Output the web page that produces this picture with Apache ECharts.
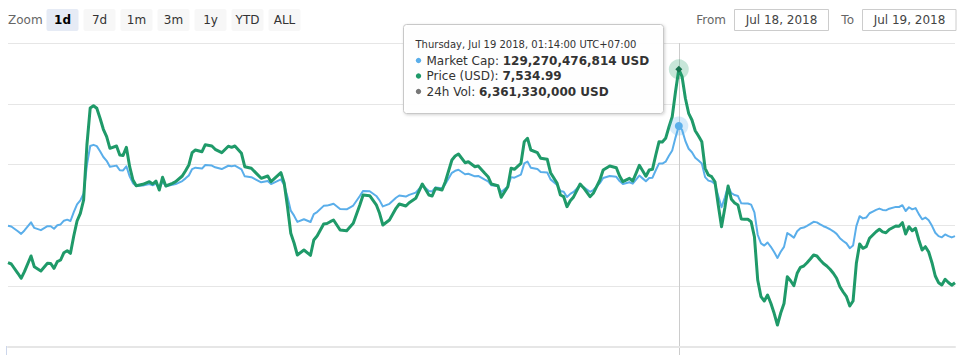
<!DOCTYPE html>
<html>
<head>
<meta charset="utf-8">
<script src="https://cdn.jsdelivr.net/npm/echarts@6/dist/echarts.min.js"></script>
<style>
html,body{margin:0;padding:0;background:#ffffff;}
#chart{width:964px;height:355px;}
</style>
</head>
<body>
<div id="chart"></div>
<script>
// ---------- DATA (5-minute samples, UTC+07:00) ----------
const times = [
 '07-18 08:14','07-18 08:19','07-18 08:29','07-18 08:34','07-18 08:39','07-18 08:49','07-18 08:54',
 '07-18 09:04','07-18 09:14','07-18 09:19','07-18 09:24','07-18 09:29','07-18 09:34','07-18 09:39','07-18 09:44','07-18 09:49','07-18 09:54','07-18 09:59',
 '07-18 10:04','07-18 10:09','07-18 10:14','07-18 10:19','07-18 10:24','07-18 10:29','07-18 10:34','07-18 10:39','07-18 10:44','07-18 10:49','07-18 10:59',
 '07-18 11:04','07-18 11:09','07-18 11:14','07-18 11:19','07-18 11:24','07-18 11:29','07-18 11:39','07-18 11:49','07-18 11:54','07-18 11:59',
 '07-18 12:04','07-18 12:09','07-18 12:14','07-18 12:24','07-18 12:29','07-18 12:39','07-18 12:44','07-18 12:49','07-18 12:54','07-18 12:59',
 '07-18 13:09','07-18 13:14','07-18 13:24','07-18 13:29','07-18 13:39','07-18 13:49','07-18 13:54','07-18 13:59',
 '07-18 14:09','07-18 14:14','07-18 14:24','07-18 14:39','07-18 14:49','07-18 14:54',
 '07-18 15:09','07-18 15:14','07-18 15:19','07-18 15:24','07-18 15:29','07-18 15:34','07-18 15:44','07-18 15:54','07-18 15:59',
 '07-18 16:04','07-18 16:14','07-18 16:19','07-18 16:24','07-18 16:29','07-18 16:39','07-18 16:49','07-18 16:59',
 '07-18 17:09','07-18 17:14','07-18 17:24','07-18 17:34','07-18 17:39','07-18 17:44','07-18 17:54',
 '07-18 18:04','07-18 18:09','07-18 18:19','07-18 18:24','07-18 18:34','07-18 18:44','07-18 18:54','07-18 18:59',
 '07-18 19:04','07-18 19:14','07-18 19:19','07-18 19:29','07-18 19:34','07-18 19:39','07-18 19:49','07-18 19:54',
 '07-18 20:04','07-18 20:09','07-18 20:19','07-18 20:24','07-18 20:29','07-18 20:39','07-18 20:44','07-18 20:54','07-18 20:59',
 '07-18 21:04','07-18 21:14','07-18 21:19','07-18 21:24','07-18 21:29','07-18 21:39','07-18 21:44','07-18 21:54','07-18 21:59',
 '07-18 22:09','07-18 22:14','07-18 22:19','07-18 22:24','07-18 22:29','07-18 22:34','07-18 22:44','07-18 22:49','07-18 22:59',
 '07-18 23:04','07-18 23:14','07-18 23:19','07-18 23:29','07-18 23:39','07-18 23:44','07-18 23:49','07-18 23:59',
 '07-19 00:04','07-19 00:09','07-19 00:14','07-19 00:19','07-19 00:24','07-19 00:29','07-19 00:34','07-19 00:39','07-19 00:44','07-19 00:49','07-19 00:54','07-19 00:59',
 '07-19 01:04','07-19 01:09','07-19 01:14','07-19 01:19','07-19 01:24','07-19 01:29','07-19 01:34','07-19 01:39','07-19 01:44','07-19 01:49','07-19 01:54','07-19 01:59',
 '07-19 02:04','07-19 02:09','07-19 02:14','07-19 02:19','07-19 02:24','07-19 02:29','07-19 02:34','07-19 02:39','07-19 02:44','07-19 02:49','07-19 02:54','07-19 02:59',
 '07-19 03:04','07-19 03:09','07-19 03:14','07-19 03:19','07-19 03:24','07-19 03:29','07-19 03:34','07-19 03:39','07-19 03:44','07-19 03:49','07-19 03:54','07-19 03:59',
 '07-19 04:04','07-19 04:09','07-19 04:14','07-19 04:19','07-19 04:24','07-19 04:29','07-19 04:34','07-19 04:39','07-19 04:44','07-19 04:49','07-19 04:54','07-19 04:59',
 '07-19 05:04','07-19 05:09','07-19 05:14','07-19 05:19','07-19 05:24','07-19 05:29','07-19 05:34','07-19 05:39','07-19 05:44','07-19 05:49','07-19 05:54','07-19 05:59',
 '07-19 06:04','07-19 06:09','07-19 06:14','07-19 06:19','07-19 06:24','07-19 06:29','07-19 06:34','07-19 06:44','07-19 06:49','07-19 06:54','07-19 06:59',
 '07-19 07:04','07-19 07:09','07-19 07:14','07-19 07:19','07-19 07:24','07-19 07:29','07-19 07:34','07-19 07:39','07-19 07:44','07-19 07:49','07-19 07:54','07-19 07:59',
 '07-19 08:04','07-19 08:09','07-19 08:14'
];

const priceUsd = [
 7341.60,7340.30,7331.00,7326.00,7332.60,7348.30,7337.60,
 7333.30,7341.00,7340.80,7336.00,7342.60,7344.30,7351.60,7353.60,7351.00,7368.30,7383.30,
 7391.00,7404.30,7459.30,7496.30,7498.60,7496.00,7486.00,7475.00,7467.60,7456.00,7458.30,
 7449.30,7448.90,7457.00,7437.60,7424.30,7418.60,7420.00,7422.60,7420.30,7423.30,
 7414.30,7427.00,7418.30,7421.00,7422.60,7428.30,7433.60,7439.30,7451.60,7454.30,
 7452.60,7459.60,7458.30,7455.00,7451.60,7458.10,7457.00,7458.30,
 7451.00,7437.60,7436.00,7426.00,7428.30,7422.60,
 7431.60,7421.00,7397.60,7371.00,7361.30,7349.30,7354.30,7349.00,7364.30,
 7368.30,7380.30,7380.80,7382.60,7384.30,7374.30,7373.60,7381.00,
 7399.30,7409.30,7408.60,7399.50,7391.00,7379.30,7384.30,
 7396.00,7400.30,7398.30,7401.60,7406.00,7420.30,7409.30,7408.30,
 7416.00,7414.30,7422.60,7444.30,7448.30,7450.30,7441.60,7442.60,
 7437.60,7438.30,7431.00,7427.60,7420.30,7418.60,7407.00,7417.60,7436.00,
 7435.00,7441.00,7462.60,7466.00,7454.30,7451.60,7446.00,7445.00,7431.60,
 7421.00,7409.30,7407.60,7397.60,7403.60,7407.40,7420.30,7416.60,7407.60,
 7411.00,7424.30,7434.30,7438.30,7436.60,7428.30,7422.60,7426.00,
 7423.30,7431.00,7439.00,7433.60,7428.00,7434.30,7435.00,7449.30,7462.60,7462.30,7466.00,7477.30,
 7487.60,7512.60,7534.99,7527.60,7506.00,7491.00,7484.30,7473.60,7468.30,7462.60,7436.00,7429.30,
 7427.60,7422.60,7399.30,7377.60,7396.30,7418.30,7405.00,7401.30,7399.30,7385.30,7385.10,7385.00,
 7382.60,7367.60,7324.30,7307.60,7303.30,7309.30,7301.00,7291.00,7279.30,7291.30,7300.80,7327.60,
 7323.60,7318.60,7331.00,7337.00,7338.30,7341.60,7345.30,7349.30,7348.30,7344.30,7340.80,7338.30,
 7335.00,7331.00,7326.00,7317.60,7312.30,7307.60,7298.30,7303.30,7341.00,7360.30,7356.00,7357.60,
 7366.00,7369.30,7372.60,7375.00,7372.40,7371.60,7374.80,7378.30,7378.10,7381.60,7370.30,
 7377.60,7373.60,7376.00,7364.30,7354.30,7357.60,7352.30,7341.60,7328.30,7321.60,7319.30,7325.00,
 7321.80,7319.10,7321.60
];

// market cap in billions of USD
const marketCapBn = [
 125.953,125.930,125.771,125.685,125.798,126.068,125.884,
 125.810,125.942,125.939,125.856,125.970,125.999,126.124,126.158,126.114,126.411,126.668,
 126.800,127.028,127.972,128.607,128.646,128.602,128.430,128.241,128.114,127.915,127.955,
 127.800,127.793,127.932,127.599,127.371,127.273,127.297,127.342,127.302,127.354,
 127.200,127.418,127.268,127.315,127.342,127.440,127.531,127.629,127.840,127.886,
 127.857,127.977,127.955,127.898,127.840,127.951,127.932,127.955,
 127.830,127.599,127.572,127.401,127.440,127.342,
 127.497,127.315,126.913,126.457,126.291,126.085,126.171,126.080,126.342,
 126.411,126.617,126.625,126.656,126.685,126.514,126.502,126.628,
 126.943,127.114,127.102,126.946,126.800,126.599,126.685,
 126.886,126.960,126.925,126.982,127.057,127.302,127.114,127.097,
 127.229,127.200,127.342,127.714,127.783,127.817,127.668,127.685,
 127.599,127.611,127.486,127.428,127.302,127.273,127.075,127.256,127.572,
 127.555,127.658,128.028,128.087,127.886,127.840,127.744,127.727,127.497,
 127.315,127.114,127.085,126.913,127.016,127.082,127.302,127.239,127.085,
 127.143,127.371,127.543,127.611,127.582,127.440,127.342,127.401,
 127.354,127.486,127.624,127.531,127.435,127.543,127.555,127.800,128.028,128.023,128.087,128.281,
 128.457,128.886,129.270476814,129.144,128.773,128.516,128.401,128.217,128.126,128.028,127.572,127.457,
 127.428,127.342,126.943,126.570,126.891,127.268,127.040,126.977,126.943,126.702,126.699,126.697,
 126.656,126.399,125.656,125.369,125.296,125.399,125.256,125.085,124.884,125.090,125.253,125.713,
 125.644,125.558,125.771,125.874,125.896,125.953,126.016,126.085,126.068,125.999,125.939,125.896,
 125.839,125.771,125.685,125.541,125.450,125.369,125.210,125.296,125.942,126.274,126.200,126.227,
 126.371,126.428,126.484,126.526,126.481,126.467,126.522,126.582,126.579,126.639,126.445,
 126.570,126.502,126.543,126.342,126.171,126.227,126.136,125.953,125.724,125.609,125.570,125.668,
 125.613,125.567,125.609
];

const volume24hUsd = 6361330000;
const hoverTime = '07-19 01:14';
const rangeButtons = ['1d','7d','1m','3m','1y','YTD','ALL'];
const selectedRange = '1d';
const seriesNames = ['Market Cap', 'Price (USD)', '24h Vol'];

// hidden axis bounds
const PRICE_MIN = 7257.3, PRICE_MAX = 7561.3;
const CAP_MIN = 121.924, CAP_MAX = 132.032;

// ---------- STYLE ----------
const C_CAP = '#5aaeea', C_PRICE = '#1f9a69', C_VOL = '#777777';
const FONT = 'DejaVu Sans';
const MONTHS = ['Jan','Feb','Mar','Apr','May','Jun','Jul','Aug','Sep','Oct','Nov','Dec'];
const DAYS = ['Sunday','Monday','Tuesday','Wednesday','Thursday','Friday','Saturday'];

function ts(s) {
  const m = s.match(/(\d+)-(\d+) (\d+):(\d+)/);
  return new Date(2018, +m[1] - 1, +m[2], +m[3], +m[4]).getTime();
}
function pad(n) { return (n < 10 ? '0' : '') + n; }
function groupDigits(str) { return str.replace(/\B(?=(\d{3})+(?!\d))/g, ','); }
function fmtInt(n) { return groupDigits(String(Math.round(n))); }
function fmt2(n) { const p = n.toFixed(2).split('.'); return groupDigits(p[0]) + '.' + p[1]; }
function fmtDay(t) { const d = new Date(t); return MONTHS[d.getMonth()] + ' ' + d.getDate() + ', ' + d.getFullYear(); }

const xs = times.map(ts);
const hi = times.indexOf(hoverTime);
const capData = xs.map((x, i) => [x, marketCapBn[i]]);
const priceData = xs.map((x, i) => [x, priceUsd[i]]);

const chart = echarts.init(document.getElementById('chart'), null, { renderer: 'svg', width: 964, height: 355 });

const option = {
  animation: false,
  backgroundColor: '#ffffff',
  grid: { left: 8, right: 9, top: 43, bottom: 8, containLabel: false },
  xAxis: {
    type: 'time', min: xs[0], max: xs[xs.length - 1],
    axisLine: { show: true, onZero: false, lineStyle: { color: '#e6e6e6', width: 2 } },
    axisTick: { show: false }, axisLabel: { show: false }, splitLine: { show: false }
  },
  yAxis: [
    { type: 'value', min: 0, max: 5, interval: 1, position: 'left',
      axisLine: { show: false }, axisTick: { show: false }, axisLabel: { show: false },
      splitLine: { show: true, lineStyle: { color: '#e6e6e6', width: 1 } } },
    { type: 'value', min: CAP_MIN, max: CAP_MAX, show: false, position: 'left', splitLine: { show: false } },
    { type: 'value', min: PRICE_MIN, max: PRICE_MAX, show: false, position: 'right', splitLine: { show: false } }
  ],
  series: [
    {
      name: seriesNames[0], type: 'line', yAxisIndex: 1, z: 2,
      data: capData, showSymbol: false, symbol: 'none', smooth: false,
      lineStyle: { color: C_CAP, width: 2, join: 'round' },
      itemStyle: { color: C_CAP },
      emphasis: { disabled: true },
      markPoint: {
        silent: true, animation: false, label: { show: false },
        data: [
          { coord: [xs[hi], marketCapBn[hi]], symbol: 'circle', symbolSize: 19, itemStyle: { color: 'rgba(90,174,234,0.25)' } },
          { coord: [xs[hi], marketCapBn[hi]], symbol: 'circle', symbolSize: 8, itemStyle: { color: C_CAP } }
        ]
      }
    },
    {
      name: seriesNames[1], type: 'line', yAxisIndex: 2, z: 3,
      data: priceData, showSymbol: false, symbol: 'none', smooth: false,
      lineStyle: { color: C_PRICE, width: 3, join: 'round' },
      itemStyle: { color: C_PRICE },
      emphasis: { disabled: true },
      markPoint: {
        silent: true, animation: false, label: { show: false },
        data: [
          { coord: [xs[hi], priceUsd[hi]], symbol: 'circle', symbolSize: 20, itemStyle: { color: 'rgba(31,154,105,0.25)' } },
          { coord: [xs[hi], priceUsd[hi]], symbol: 'diamond', symbolSize: 7, itemStyle: { color: '#17734f' } }
        ]
      }
    }
  ]
};
chart.setOption(option);

// ---------- decorations (range selector, date inputs, crosshair, tooltip) ----------
const g = [];
g.push({ type: 'text', x: 8, y: 20, z: 10,
  style: { text: 'Zoom', fill: '#666666', fontSize: 12, fontFamily: FONT, verticalAlign: 'middle', align: 'left' } });
rangeButtons.forEach((lab, i) => {
  const bx = 46.5 + 37 * i;
  const sel = lab === selectedRange;
  g.push({ type: 'rect', z: 10, shape: { x: bx, y: 9, width: 32, height: 22, r: 2 },
    style: { fill: sel ? '#e6ebf5' : '#f7f7f7' } });
  g.push({ type: 'text', z: 11, x: bx + 16, y: 20,
    style: { text: lab, fill: sel ? '#000000' : '#333333', fontSize: 12, fontWeight: sel ? 'bold' : 'normal',
      fontFamily: FONT, align: 'center', verticalAlign: 'middle' } });
});
g.push({ type: 'text', z: 10, x: 726, y: 20,
  style: { text: 'From', fill: '#666666', fontSize: 12, fontFamily: FONT, align: 'right', verticalAlign: 'middle' } });
g.push({ type: 'rect', z: 10, shape: { x: 734.5, y: 9.5, width: 94, height: 21 },
  style: { fill: '#ffffff', stroke: '#cccccc', lineWidth: 1 } });
g.push({ type: 'text', z: 11, x: 781.5, y: 20,
  style: { text: fmtDay(xs[0]), fill: '#444444', fontSize: 12, fontFamily: FONT, align: 'center', verticalAlign: 'middle' } });
g.push({ type: 'text', z: 10, x: 854, y: 20,
  style: { text: 'To', fill: '#666666', fontSize: 12, fontFamily: FONT, align: 'right', verticalAlign: 'middle' } });
g.push({ type: 'rect', z: 10, shape: { x: 862.5, y: 9.5, width: 93.5, height: 21 },
  style: { fill: '#ffffff', stroke: '#cccccc', lineWidth: 1 } });
g.push({ type: 'text', z: 11, x: 909.5, y: 20,
  style: { text: fmtDay(xs[xs.length - 1]), fill: '#444444', fontSize: 12, fontFamily: FONT, align: 'center', verticalAlign: 'middle' } });

// navigator edge mark at the bottom-left
g.push({ type: 'line', z: 1, shape: { x1: 6.5, y1: 346, x2: 6.5, y2: 355 }, style: { stroke: '#ccd6eb', lineWidth: 1 } });

// crosshair at the hovered point (x from the time axis)
const cx = Math.round(chart.convertToPixel({ xAxisIndex: 0 }, xs[hi])) + 0.5;
const cTop = chart.convertToPixel({ yAxisIndex: 0 }, 5);
g.push({ type: 'line', z: 0, shape: { x1: cx, y1: cTop, x2: cx, y2: 355 }, style: { stroke: '#cccccc', lineWidth: 1 } });

// tooltip
const hd = new Date(xs[hi]);
const header = DAYS[hd.getDay()] + ', ' + MONTHS[hd.getMonth()] + ' ' + hd.getDate() + ' ' + hd.getFullYear() + ', ' +
  pad(hd.getHours()) + ':' + pad(hd.getMinutes()) + ':00 UTC+07:00';
const rows = [
  { color: C_CAP, label: seriesNames[0] + ': ', value: fmtInt(marketCapBn[hi] * 1e9) + ' USD' },
  { color: C_PRICE, label: seriesNames[1] + ': ', value: fmt2(priceUsd[hi]) },
  { color: C_VOL, label: seriesNames[2] + ': ', value: fmtInt(volume24hUsd) + ' USD' }
];
const tipChildren = [
  { type: 'rect', shape: { x: 403.5, y: 24.5, width: 260, height: 89, r: 3 },
    style: { fill: 'rgba(255,255,255,0.96)', stroke: '#c8c8c8', lineWidth: 1,
      shadowBlur: 3, shadowOffsetX: 1, shadowOffsetY: 1, shadowColor: 'rgba(0,0,0,0.18)' } },
  { type: 'text', x: 415.5, y: 44.5,
    style: { text: header, fill: '#333333', fontSize: 10, fontFamily: FONT, verticalAlign: 'middle', align: 'left' } }
];
rows.forEach((r, i) => {
  const ry = 60.5 + 15.5 * i;
  tipChildren.push({ type: 'circle', shape: { cx: 418.5, cy: ry, r: 2.7 }, style: { fill: r.color } });
  tipChildren.push({ type: 'text', x: 426.5, y: ry,
    style: { text: r.label + '{b|' + r.value + '}', fill: '#333333', fontSize: 12, fontFamily: FONT,
      verticalAlign: 'middle', align: 'left',
      rich: { b: { fontWeight: 'bold', fontSize: 12, fontFamily: FONT, fill: '#333333' } } } });
});
g.push({ type: 'group', z: 20, children: tipChildren });

chart.setOption({ graphic: g });
</script>
</body>
</html>
